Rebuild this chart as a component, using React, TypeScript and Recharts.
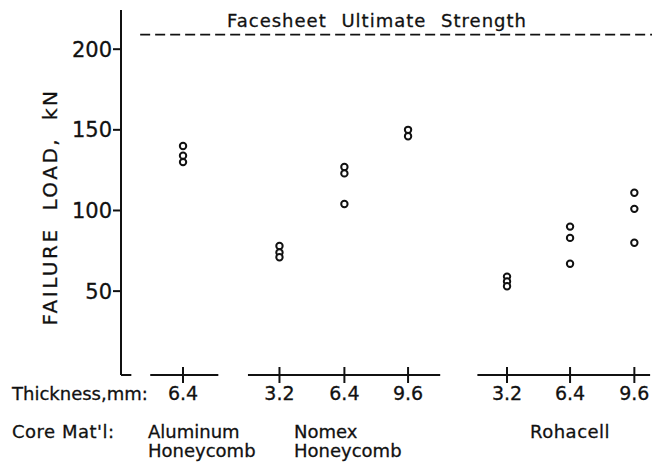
import { ScatterChart, Scatter, XAxis, YAxis, ReferenceLine } from 'recharts';

// x slot of each specimen column (data units, one unit per column inside a group)
const xPos = [0, 1.53, 2.56, 3.57, 5.14, 6.14, 7.16];
const thickness = ['6.4', '3.2', '6.4', '9.6', '3.2', '6.4', '9.6'];
const loads = [
  [140, 134, 130],
  [78, 74, 71],
  [127, 123, 104],
  [150, 146],
  [59, 56, 53],
  [90, 83, 67],
  [111, 101, 80],
];
const yTicks = [50, 100, 150, 200];
const facesheetStrength = 209;

// baseline pieces under each core material group
const groupSpans = [
  [-0.984, -0.82],
  [-0.52, 0.56],
  [1.03, 4.08],
  [4.67, 7.41],
];

const points = xPos.flatMap((x, i) => loads[i].map((y) => ({ x, y })));

const FONT = 'DejaVu Sans, sans-serif';
const INK = '#111';

const Ring = (props: any) => (
  <circle cx={props.cx} cy={props.cy} r={3.2} fill="#fff" stroke={INK} strokeWidth={2} />
);

const ThickTick = (props: any) => {
  const { x, y, payload } = props;
  const i = xPos.indexOf(payload.value);
  return (
    <g>
      <line x1={x} x2={x} y1={y - 16} y2={y} stroke={INK} strokeWidth={2} />
      <text x={x} y={y + 17} textAnchor="middle" fontSize={19} fontFamily={FONT} fill={INK}
        stroke={INK} strokeWidth={0.3}>
        {thickness[i]}
      </text>
    </g>
  );
};

export default function App() {
  return (
    <div style={{ position: 'absolute', left: 0, top: 0, background: '#fff' }}>
      <ScatterChart width={661} height={464} margin={{ top: 10, right: 9, left: 0, bottom: 0 }}>
        <XAxis
          type="number"
          dataKey="x"
          domain={[-0.984, 7.44]}
          ticks={xPos}
          axisLine={false}
          tickLine={false}
          height={89}
          tick={<ThickTick />}
          interval={0}
        />
        <YAxis
          type="number"
          dataKey="y"
          domain={[-2, 224.3]}
          ticks={yTicks}
          width={121}
          axisLine={{ stroke: INK, strokeWidth: 2 }}
          tickLine={{ stroke: INK, strokeWidth: 2 }}
          tickSize={8}
          tickMargin={1}
          tick={{ fill: INK, fontSize: 21, fontFamily: FONT, stroke: INK, strokeWidth: 0.3 }}
        />
        {groupSpans.map(([a, b], i) => (
          <ReferenceLine
            key={i}
            segment={[{ x: a, y: -2 }, { x: b, y: -2 }]}
            stroke={INK}
            strokeWidth={2}
            ifOverflow="visible"
          />
        ))}
        <ReferenceLine
          segment={[{ x: -0.68, y: facesheetStrength }, { x: 7.44, y: facesheetStrength }]}
          stroke={INK}
          strokeWidth={1.8}
          strokeDasharray="10 5"
        />
        <Scatter data={points} shape={<Ring />} isAnimationActive={false} />
        <g fontFamily={FONT} fill={INK} stroke={INK} strokeWidth={0.3}>
          <text x={377} y={27} textAnchor="middle" fontSize={18} letterSpacing={1} wordSpacing={8}>
            Facesheet Ultimate Strength
          </text>
          <text x={0} y={0} transform="translate(57,207) rotate(-90)" textAnchor="middle" fontSize={20}
            letterSpacing={2.5} wordSpacing={8}>
            FAILURE LOAD, kN
          </text>
          <g fontSize={18}>
            <text x={12} y={400}>Thickness,mm:</text>
            <text x={12} y={438} letterSpacing={0.5}>Core Mat'l:</text>
            <text x={148} y={438}>Aluminum</text>
            <text x={148} y={457}>Honeycomb</text>
            <text x={294} y={438}>Nomex</text>
            <text x={294} y={457}>Honeycomb</text>
            <text x={530} y={438} letterSpacing={0.5}>Rohacell</text>
          </g>
        </g>
      </ScatterChart>
    </div>
  );
}
